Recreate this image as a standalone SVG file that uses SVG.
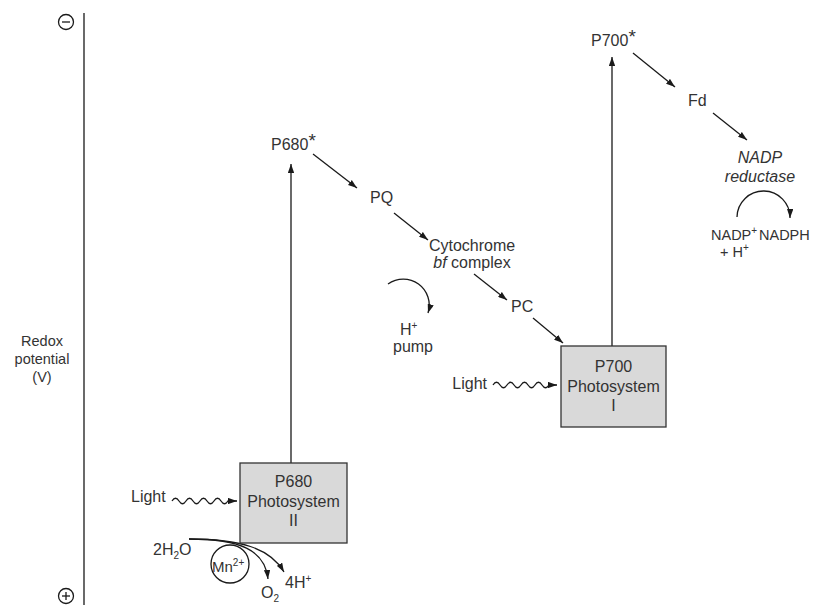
<svg xmlns="http://www.w3.org/2000/svg" width="827" height="607" viewBox="0 0 827 607">
<style>
text{font-family:"Liberation Sans",Arial,sans-serif;font-size:16px;fill:#333}
.c{text-anchor:middle}
.i{font-style:italic}
.sup{font-size:10px}
.star{font-size:19px}
.ln{fill:none;stroke:#1a1a1a;stroke-width:1.3}
.box{fill:#d9d9d9;stroke:#333;stroke-width:1.3}
</style>
<defs>
<marker id="ah" viewBox="0 0 10 7" refX="10" refY="3.5" markerWidth="9" markerHeight="6.5" markerUnits="userSpaceOnUse" orient="auto">
<path d="M0,0 L10,3.5 L0,7 z" fill="#1a1a1a"/>
</marker>
</defs>
<g id="axis">
<line x1="84" y1="13" x2="84" y2="605" class="ln"/>
<circle cx="66" cy="22" r="7.5" class="ln" stroke-width="1"/>
<line x1="62" y1="22" x2="70" y2="22" class="ln" stroke-width="1"/>
<circle cx="66" cy="596" r="7.5" class="ln" stroke-width="1"/>
<line x1="62" y1="596" x2="70" y2="596" class="ln" stroke-width="1"/>
<line x1="66" y1="592" x2="66" y2="600" class="ln" stroke-width="1"/>
<text class="c" x="42" y="346" style="font-size:14.5px">Redox</text>
<text class="c" x="42" y="364" style="font-size:14.5px">potential</text>
<text class="c" x="42" y="382" style="font-size:14.5px">(V)</text>
</g>
<g id="connectors">
<path class="ln" d="M291,463 L291,164" marker-end="url(#ah)"/>
<path class="ln" d="M313,154 L357,188" marker-end="url(#ah)"/>
<path class="ln" d="M394,213 L428,240" marker-end="url(#ah)"/>
<path class="ln" d="M474,274 L507,300" marker-end="url(#ah)"/>
<path class="ln" d="M533,318 L563,343" marker-end="url(#ah)"/>
<path class="ln" d="M612,346 L612,57" marker-end="url(#ah)"/>
<path class="ln" d="M633,53 L675,87" marker-end="url(#ah)"/>
<path class="ln" d="M713,113 L747,140" marker-end="url(#ah)"/>
<path class="ln" d="M737,217 A26.5,26.5 0 0 1 790,218" marker-end="url(#ah)"/>
<path class="ln" d="M388,284 A26,26 0 0 1 428,313" marker-end="url(#ah)"/>
<path class="ln" d="M172,501 q3.5,-5.5 7,0 t7,0 t7,0 t7,0 t7,0 t7,0 t7,0 t7,0 l9,0" marker-end="url(#ah)"/>
<path class="ln" d="M493,385 q3.5,-5.5 7,0 t7,0 t7,0 t7,0 t7,0 t7,0 t7,0 t7,0 l8,0" marker-end="url(#ah)"/>
<path class="ln" d="M189,539 C240,539 265,550 268,579" marker-end="url(#ah)"/>
<path class="ln" d="M189,539 C240,539 270,548 284,572" marker-end="url(#ah)"/>
</g>
<g id="ps2">
<rect class="box" x="240" y="463" width="107" height="80"/>
<text class="c" x="293.5" y="487">P680</text>
<text class="c" x="293.5" y="507">Photosystem</text>
<text class="c" x="293.5" y="526">II</text>
</g>
<g id="ps1">
<rect class="box" x="561" y="346" width="105" height="81"/>
<text class="c" x="613.5" y="372">P700</text>
<text class="c" x="613.5" y="392">Photosystem</text>
<text class="c" x="613.5" y="411">I</text>
</g>
<g id="p680star"><text x="271" y="150">P680<tspan class="star" dy="-3">*</tspan></text></g>
<g id="pq"><text x="370" y="203">PQ</text></g>
<g id="cyt">
<text class="c" x="472" y="251">Cytochrome</text>
<text class="c" x="472" y="268"><tspan class="i">bf</tspan> complex</text>
</g>
<g id="pc"><text x="511" y="312">PC</text></g>
<g id="hpump">
<text x="400" y="335">H<tspan class="sup" dy="-6">+</tspan></text>
<text class="c" x="413" y="352">pump</text>
</g>
<g id="p700star"><text x="591" y="46">P700<tspan class="star" dy="-3">*</tspan></text></g>
<g id="fd"><text x="688" y="106">Fd</text></g>
<g id="nadpred">
<text class="c i" x="760" y="163">NADP</text>
<text class="c i" x="760" y="182">reductase</text>
</g>
<g id="nadp">
<text x="711" y="240" style="font-size:14.5px">NADP<tspan class="sup" dy="-6">+</tspan></text>
<text x="720" y="257" style="font-size:14.5px">+ H<tspan class="sup" dy="-6">+</tspan></text>
</g>
<g id="nadph"><text x="759" y="240" style="font-size:14.5px">NADPH</text></g>
<g id="light2"><text x="131" y="502">Light</text></g>
<g id="light1"><text x="487" y="389" text-anchor="end">Light</text></g>
<g id="water"><text x="153" y="555">2H<tspan class="sup" dy="4">2</tspan><tspan dy="-4">O</tspan></text></g>
<g id="mn">
<circle cx="230" cy="564" r="19" class="ln" stroke-width="1.1"/>
<text x="212" y="572" style="font-size:15px">Mn<tspan class="sup" dy="-6">2+</tspan></text>
</g>
<g id="o2"><text x="261" y="598">O<tspan class="sup" dy="4">2</tspan></text></g>
<g id="h4"><text x="285" y="588">4H<tspan class="sup" dy="-6">+</tspan></text></g>
</svg>
